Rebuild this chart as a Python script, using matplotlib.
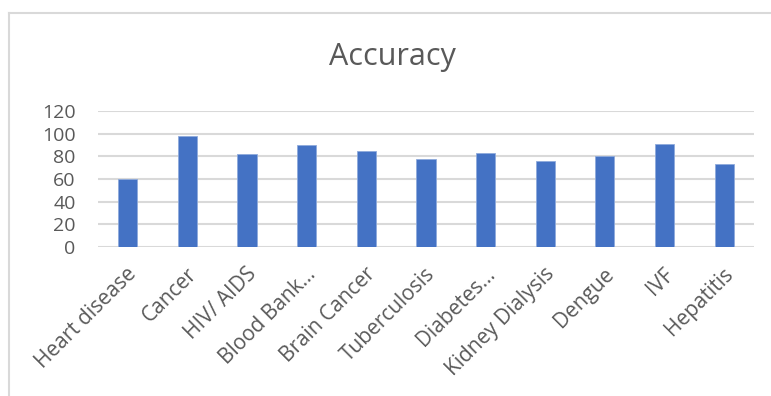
import matplotlib.pyplot as plt
from matplotlib.lines import Line2D
from matplotlib.transforms import ScaledTranslation

categories = ['Heart disease', 'Cancer', 'HIV/ AIDS', 'Blood Bank...', 'Brain Cancer',
              'Tuberculosis', 'Diabetes...', 'Kidney Dialysis', 'Dengue', 'IVF', 'Hepatitis']
accuracy = [60, 98, 82, 90, 85, 78, 83, 76, 80, 91, 73]
yticks = [0, 20, 40, 60, 80, 100, 120]

plt.rcParams['font.family'] = ['Open Sans', 'DejaVu Sans']
grey = '#595959'

fig = plt.figure(figsize=(7.71, 3.96), dpi=100)
ax = fig.add_axes([0.127, 0.376, 0.851, 0.344])

x = range(len(categories))
ax.bar(x, accuracy, width=0.32, color='#4472C4', edgecolor='#8FAADC', linewidth=0.6, zorder=3)

ax.set_xlim(-0.5, len(categories) - 0.5)
ax.set_ylim(0, 120)
ax.set_yticks(yticks)
ax.set_yticklabels([str(v) for v in yticks], fontsize=14, color=grey)
ax.set_xticks(list(x))
ax.set_xticklabels(categories, rotation=45, ha='right', va='top', rotation_mode='anchor',
                   fontsize=15, color=grey)
ax.tick_params(axis='y', length=0, pad=16)
ax.tick_params(axis='x', length=0, pad=12)
# tiny horizontal nudge of the rotated labels
shift = ScaledTranslation(-1 / 72, 0, fig.dpi_scale_trans)
for lab in ax.get_xticklabels():
    lab.set_transform(lab.get_transform() + shift)
ax.yaxis.grid(True, color='#D9D9D9', linewidth=1.5, zorder=0)
for s in ax.spines.values():
    s.set_visible(False)

fig.text(0.509, 0.856, 'Accuracy', ha='center', va='center', fontsize=22, color=grey)

# chart frame (partially cropped in the reference)
bx, by = 8.5 / 771, 1 - 12.5 / 396
fig.add_artist(Line2D([bx, bx], [0, by], transform=fig.transFigure, color='#D9D9D9', linewidth=1.5))
fig.add_artist(Line2D([bx, 1], [by, by], transform=fig.transFigure, color='#D9D9D9', linewidth=1.5))

fig.savefig('out.png', dpi=100)
